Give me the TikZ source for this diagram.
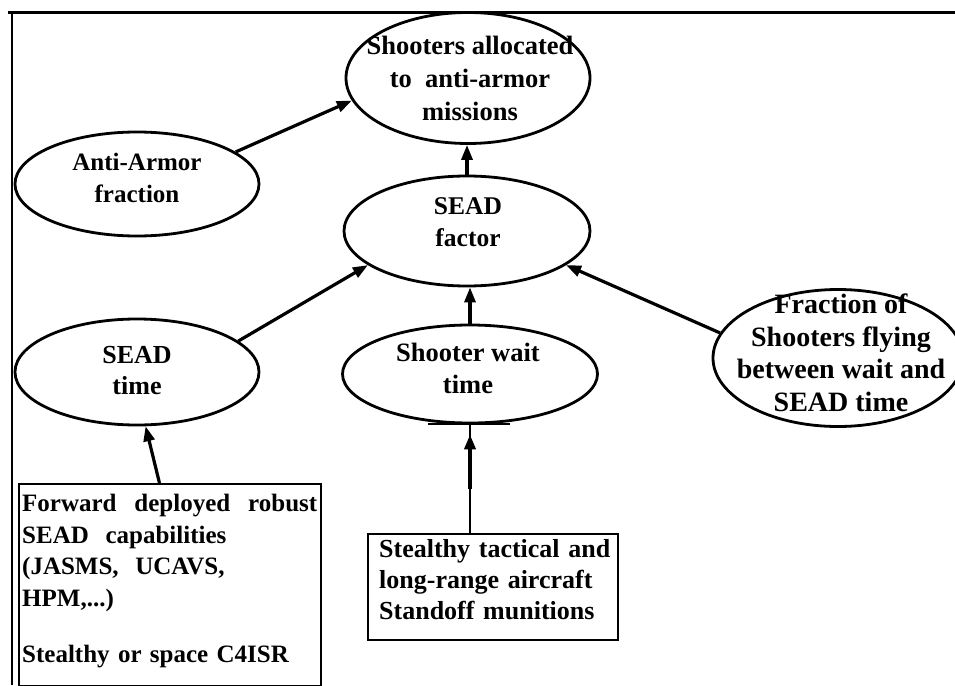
\documentclass[tikz,border=0pt]{standalone}
\usepackage{fontspec}
\setmainfont{Liberation Serif}
\usetikzlibrary{shapes.geometric,arrows.meta,calc}
\begin{document}
\begin{tikzpicture}[x=1pt,y=-1pt,
  oval/.style={draw,ellipse,line width=2.8pt,inner sep=0pt},
  txt/.style={inner sep=0pt,align=center},
  boxnode/.style={draw,rectangle,line width=2.4pt,inner sep=0pt},
  conn/.style={line width=3.2pt,-{Triangle[length=15pt,width=11pt]}},
  frameline/.style={line width=2.6pt}]
\useasboundingbox (0,0) rectangle (955,685);
% frame
\coordinate (ftl) at (8,12.5);
\coordinate (ftr) at (955,12.5);
\coordinate (fbl) at (12,12.5);
\coordinate (fbb) at (12,685);
\draw[frameline] (ftl) -- (ftr);
\draw[frameline] (fbl) -- (fbb);
% ellipses
\node[oval,minimum width=244,minimum height=131] (alloc) at (468,78) {};
\node[txt,font=\bfseries\fontsize{26.5}{33}\selectfont] (alloc-t) at (470,78.5)
  {Shooters allocated\\to\ \ anti-armor\\missions};
\node[oval,minimum width=244,minimum height=104] (armor) at (137,184) {};
\node[txt,font=\bfseries\fontsize{25}{32}\selectfont] (armor-t) at (137,177.5)
  {Anti-Armor\\fraction};
\node[oval,minimum width=246,minimum height=110] (factor) at (467,231) {};
\node[txt,font=\bfseries\fontsize{25.5}{32}\selectfont] (factor-t) at (468,222)
  {SEAD\\factor};
\node[oval,minimum width=244,minimum height=106] (seadtime) at (137,372) {};
\node[txt,font=\bfseries\fontsize{26}{31}\selectfont] (seadtime-t) at (137,370.5)
  {SEAD\\time};
\node[oval,minimum width=255,minimum height=98] (wait) at (470,374) {};
\node[txt,font=\bfseries\fontsize{26.5}{32}\selectfont] (wait-t) at (468,368)
  {Shooter wait\\time};
\node[oval,minimum width=250,minimum height=137] (frac) at (838,358) {};
\node[txt,font=\bfseries\fontsize{28}{32.5}\selectfont] (frac-t) at (841,353)
  {Fraction of\\Shooters flying\\between wait and\\SEAD time};
% boxes
\node[boxnode,minimum width=302,minimum height=202,anchor=north west] (lbox) at (18,483) {};
\node[inner sep=0pt,anchor=north west,text width=295pt,align=left,
  font=\bfseries\fontsize{25}{31.5}\selectfont] (lbox-t) at (22,494)
  {Forward\hfill deployed\hfill robust\\
   SEAD\ \ capabilities\\
   (JASMS,\ \ UCAVS,\\
   HPM,...)\\[25pt]
   Stealthy or space C4ISR};
\node[boxnode,minimum width=250,minimum height=106,anchor=north west] (mbox) at (367,533) {};
\node[inner sep=0pt,anchor=north west,text width=236pt,align=left,
  font=\bfseries\fontsize{26}{31}\selectfont] (mbox-t) at (379,539)
  {Stealthy tactical and\\long-range aircraft\\Standoff munitions};
% connectors
\draw[conn] (armor.18.8) -- (alloc.191.5);
\draw[conn] (factor.north) -- (factor.north |- alloc.south);
\draw[conn] (seadtime.17.3) -- (factor.199.5);
\draw[conn] (wait.north) -- (wait.north |- factor.south);
\draw[conn] (frac.168.5) -- (factor.-19.3);
\draw[conn] (lbox.96.2) -- (seadtime.-81.4);
\coordinate (wt) at (wait.south);
\draw[line width=2pt] ($(wt)+(-42,0)$) -- ($(wt)+(40,0)$);
\draw[line width=2pt] (mbox.north -| wt) -- (wt);
\draw[line width=4.8pt,-{Triangle[length=15pt,width=11pt]}] ($(wt)+(0,65)$) -- ($(wt)+(0,10)$);
\end{tikzpicture}
\end{document}
